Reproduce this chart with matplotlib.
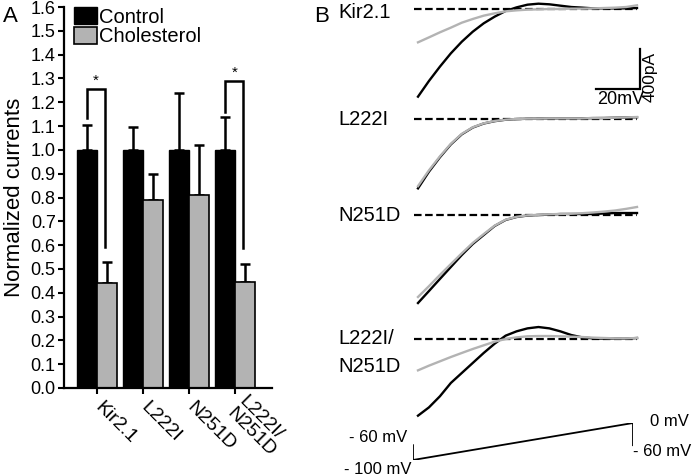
import matplotlib
matplotlib.use('Agg')
import matplotlib.pyplot as plt
import matplotlib.transforms as mtransforms
import numpy as np

plt.rcParams['font.family'] = ['Liberation Sans', 'DejaVu Sans']

# ---- panel A data
groups = ['Kir2.1', 'L222I', 'N251D', 'L222I/\nN251D']
control = [1.0, 1.0, 1.0, 1.0]
control_err = [0.105, 0.095, 0.24, 0.14]
chol = [0.44, 0.79, 0.81, 0.445]
chol_err = [0.09, 0.11, 0.21, 0.075]

# ---- panel B data: current (pA) vs ramp voltage (mV)
volt = [-100, -95, -90, -85, -80, -75, -70, -65, -60, -55, -50,
        -45, -40, -35, -30, -25, -20, -15, -10, -5, 0]
kir_ctrl = [-973, -799, -640, -492, -363, -252, -159, -85, -22, 18, 48,
            59, 52, 37, 22, 15, 7, 7, 7, 7, 11]
kir_chol = [-370, -315, -259, -207, -152, -111, -74, -48, -26, -15, -7,
            -4, 0, 0, 4, 4, 7, 11, 15, 22, 41]
l222i_ctrl = [-770, -585, -425, -282, -170, -95, -50, -24, -8, -1, 3,
              4, 6, 7, 7, 8, 10, 11, 14, 17, 20]
l222i_chol = [-745, -570, -415, -275, -165, -92, -48, -22, -7, 0, 4,
              4, 7, 7, 7, 7, 11, 11, 15, 18, 22]
n251d_ctrl = [-977, -844, -710, -577, -444, -322, -222, -122, -55, -22, -6,
              0, 5, 11, 11, 11, 11, 17, 22, 22, 22]
n251d_chol = [-910, -790, -665, -545, -425, -310, -212, -118, -52, -20, -4,
              2, 8, 11, 14, 20, 28, 38, 50, 68, 89]
dbl_ctrl = [-851, -759, -636, -488, -377, -266, -155, -52, 37, 85, 118,
            133, 118, 85, 44, 18, 7, 4, 4, 4, 11]
dbl_chol = [-348, -296, -248, -200, -155, -111, -70, -30, 0, 18, 30,
            33, 33, 30, 26, 22, 15, 11, 7, 7, 11]
trace_names = ['Kir2.1', 'L222I', 'N251D', 'L222I/\nN251D']
ctrl_traces = [kir_ctrl, l222i_ctrl, n251d_ctrl, dbl_ctrl]
chol_traces = [kir_chol, l222i_chol, n251d_chol, dbl_chol]

# ramp protocol
proto_t = [0, 0, 1, 1]
proto_v = [-60, -100, 0, -60]

W, H = 693, 476
fig = plt.figure(figsize=(W / 100, H / 100), dpi=100)

def box(l, t, r, b):
    return [l / W, 1 - b / H, (r - l) / W, (b - t) / H]

# ================= panel A
ax = fig.add_axes(box(64, 7, 272, 388))
x = np.arange(len(groups))
bw = 0.43
gray = '#b3b3b3'
ax.bar(x - bw / 2, control, bw, color='black', edgecolor='black', lw=1,
       label='Control', zorder=2)
ax.bar(x + bw / 2, chol, bw, color=gray, edgecolor='black', lw=1.2,
       label='Cholesterol', zorder=2)
ax.errorbar(x - bw / 2, control, yerr=[[0] * 4, control_err], fmt='none',
            ecolor='black', elinewidth=1.8, capsize=3.5, capthick=1.8, zorder=1)
ax.errorbar(x + bw / 2, chol, yerr=[[0] * 4, chol_err], fmt='none',
            ecolor='black', elinewidth=1.8, capsize=3.5, capthick=1.8, zorder=1)

# significance brackets
for gi, top, lbot, rbot in [(0, 1.254, 1.134, 0.593), (3, 1.29, 1.16, 0.588)]:
    xl, xr = gi - 0.22, gi + 0.18
    ax.plot([xl, xl, xr, xr], [lbot, top, top, rbot], color='black', lw=1.8,
            solid_joinstyle='miter')
    ax.text((xl + xr) / 2, top + 0.005, '*', ha='center', va='bottom', fontsize=11)

ax.set_xlim(-0.72, 3.8)
ax.set_ylim(0, 1.6)
ax.set_yticks(np.arange(0, 1.61, 0.1))
ax.set_yticklabels(['%.1f' % v for v in np.arange(0, 1.61, 0.1)], fontsize=13)
ax.set_xticks(x)
ax.set_xticklabels(groups, fontsize=14, rotation=-45, ha='left', va='center',
                   rotation_mode='anchor', linespacing=1.0)
shift = mtransforms.ScaledTranslation(-7 / 100, 0, fig.dpi_scale_trans)
for lab in ax.get_xticklabels():
    lab.set_transform(lab.get_transform() + shift)
ax.tick_params(axis='both', width=1.5, length=4, pad=2)
ax.tick_params(axis='x', pad=8)
for s in ['top', 'right']:
    ax.spines[s].set_visible(False)
for s in ['left', 'bottom']:
    ax.spines[s].set_linewidth(1.6)
ax.set_ylabel('Normalized currents', fontsize=16, labelpad=4)
ax.legend(loc='upper left', bbox_to_anchor=(0.048, 1.0), frameon=False,
          fontsize=14.5, handlelength=1.15, handleheight=0.95,
          handletextpad=0.1, labelspacing=0.0, borderaxespad=0, borderpad=0)
fig.text(10 / W, 1 - 16 / H, 'A', fontsize=16, ha='center', va='center')

# ================= panel B
px_per_mv = 2.19
pa_per_px = 11.1
bx = fig.add_axes([330 / W, 0, 363 / W, 1])
bx.set_xlim(-100 - 88 / px_per_mv, -100 + 275 / px_per_mv)
bx.set_ylim(-H * pa_per_px, 0)
bx.axis('off')
zero_px = [9, 119, 215, 339]
label_px = [12, 119.5, 215, 352]
for name, c, g, zp, lp in zip(trace_names, ctrl_traces, chol_traces, zero_px, label_px):
    off = -zp * pa_per_px
    bx.plot([-101.8, 0], [off, off], color='black', lw=1.6, dashes=(3.4, 1.6))
    bx.plot(volt, np.array(c) + off, color='black', lw=1.7)
    bx.plot(volt, np.array(g) + off, color=gray, lw=1.7)
    bx.text(-140.2 + 8 / px_per_mv, -lp * pa_per_px, name, fontsize=14.5,
            ha='left', va='center', linespacing=1.6)

# scale bar
bx.plot([-18.6, 1.4, 1.4], [-89 * pa_per_px, -89 * pa_per_px, -49 * pa_per_px],
        color='black', lw=1.6, solid_joinstyle='miter')
bx.text(-7.5, -91 * pa_per_px, '20mV', fontsize=13, ha='center', va='top')
bx.text(1.4 + 10 / px_per_mv, -77 * pa_per_px, '400pA', fontsize=12.5,
        rotation=90, ha='center', va='center')
fig.text(322 / W, 1 - 16 / H, 'B', fontsize=16, ha='center', va='center')

# protocol
px_ = fig.add_axes(box(413, 423, 633, 460))
px_.plot(proto_t, proto_v, color='black', lw=1.3)
px_.set_xlim(0, 1)
px_.set_ylim(-100, 0)
px_.axis('off')
fig.text(407 / W, 1 - 437 / H, '- 60 mV', fontsize=12, ha='right', va='center')
fig.text(412 / W, 1 - 470 / H, '- 100 mV', fontsize=12, ha='right', va='center')
fig.text(650 / W, 1 - 421 / H, '0 mV', fontsize=12, ha='left', va='center')
fig.text(691 / W, 1 - 452 / H, '- 60 mV', fontsize=12, ha='right', va='center')

fig.savefig('out.png', dpi=100)
